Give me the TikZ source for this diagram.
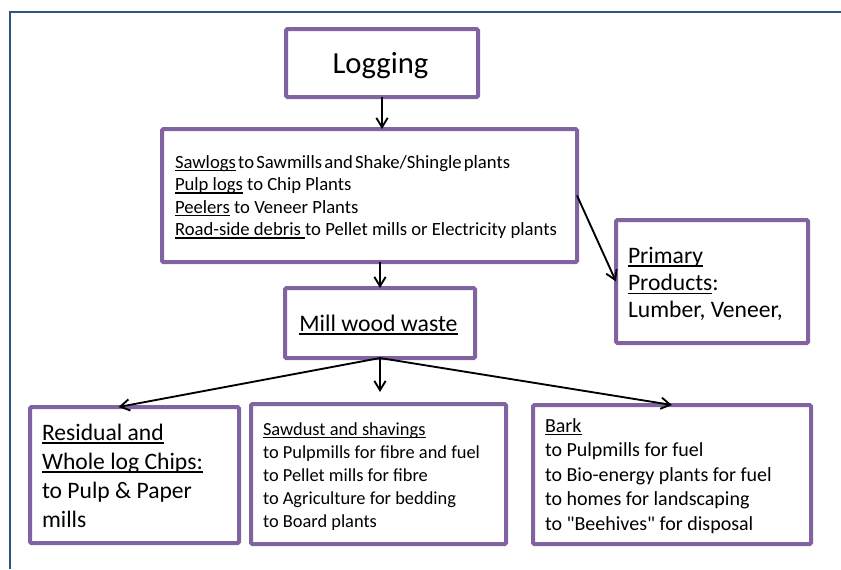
\documentclass[tikz,border=0pt]{standalone}
\usepackage{fontspec}
\setmainfont{Carlito}[Ligatures=TeXOff]
\usetikzlibrary{arrows.meta}
\definecolor{boxpurple}{HTML}{8064A2}
\definecolor{frameblue}{HTML}{2A5587}
\newcommand\myul[1]{\leavevmode\setbox0=\hbox{#1}\rlap{\rule[-0.17em]{\wd0}{0.07em}}\box0\relax}
\newcommand\fsz[2]{\fontsize{#1}{#2}\selectfont}
\newcommand\stack[1]{\vtop{\lineskiplimit=-20pt\relax#1}}
\begin{document}
\begin{tikzpicture}[x=0.75pt,y=-0.75pt,
  box/.style={draw=boxpurple,line width=3pt,rounded corners=1pt,fill=white,
    inner sep=0pt,outer sep=0pt,rectangle},
  txt/.style={anchor=base west,inner sep=0pt,outer sep=0pt,text=black},
  ctxt/.style={anchor=base,inner sep=0pt,outer sep=0pt,text=black},
  arr/.style={line width=1.4pt,-{Straight Barb[length=7pt,width=8.5pt]}},
  frame/.style={draw=frameblue,line width=1.5pt}]
\useasboundingbox (0,0) rectangle (841,569);
\draw[frame] (9.5,569) -- (9.5,12) -- (841,12);
% boxes
\node[box,minimum width={192*0.75pt},minimum height={68*0.75pt}] (log) at (382,63) {};
\node[box,minimum width={415*0.75pt},minimum height={133*0.75pt}] (b2) at (369.5,195.5) {};
\node[box,minimum width={192*0.75pt},minimum height={123*0.75pt}] (prim) at (712,281.5) {};
\node[box,minimum width={190*0.75pt},minimum height={70*0.75pt}] (mill) at (380,323) {};
\node[box,minimum width={209*0.75pt},minimum height={136*0.75pt}] (res) at (134.5,475) {};
\node[box,minimum width={255*0.75pt},minimum height={140*0.75pt}] (saw) at (378.5,474) {};
\node[box,minimum width={278*0.75pt},minimum height={139*0.75pt}] (bark) at (672,474.5) {};
% texts
\node[ctxt,font=\fsz{23}{27}] (tlog) at (380.5,73) {Logging};
\node[ctxt,font=\fsz{17.8}{21}] (tmill) at (378.5,331) {\myul{Mill wood waste}};
\node[txt,font=\fsz{14}{16.9}] (t2) at (175,168) {\stack{%
  \hbox{\spaceskip=0.12em\myul{Sawlogs} to Sawmills and Shake/Shingle plants}%
  \hbox{\myul{Pulp logs} to Chip Plants}%
  \hbox{\myul{Peelers} to Veneer Plants}%
  \hbox{\myul{Road-side debris\ }to Pellet mills or Electricity plants}}};
\node[txt,font=\fsz{17.7}{20.6}] (tprim) at (628,263) {\stack{%
  \hbox{\myul{Primary}}%
  \hbox{\myul{Products}:}%
  \hbox{Lumber, Veneer,}}};
\node[txt,font=\fsz{17.7}{21.75}] (tres) at (42,440) {\stack{%
  \hbox{\myul{Residual and}}%
  \hbox{\myul{Whole log Chips:}}%
  \hbox{to Pulp \& Paper}%
  \hbox{mills}}};
\node[txt,font=\fsz{13.8}{17.25}] (tsaw) at (263,435) {\stack{%
  \hbox{\myul{Sawdust and shavings}}%
  \hbox{to Pulpmills for fibre and fuel}%
  \hbox{to Pellet mills for fibre}%
  \hbox{to Agriculture for bedding}%
  \hbox{to Board plants}}};
\node[txt,font=\fsz{15}{18.4}] (tbark) at (545,432) {\stack{%
  \hbox{\myul{Bark}}%
  \hbox{to Pulpmills for fuel}%
  \hbox{to Bio-energy plants for fuel}%
  \hbox{to homes for landscaping}%
  \hbox{to "Beehives" for disposal}}};
% connectors
\draw[arr] (log.south) -- (log.south |- b2.north);
\draw[arr] (mill.north |- b2.south) -- (mill.north);
\draw[arr] (b2.east) -- (prim.west);
\draw[arr,shorten >=9pt] (mill.south) -- (mill.south |- saw.north);
\draw[arr] (mill.south) -- ([xshift=-12pt]res.north);
\draw[arr] (mill.south) -- (bark.north);
\end{tikzpicture}
\end{document}
